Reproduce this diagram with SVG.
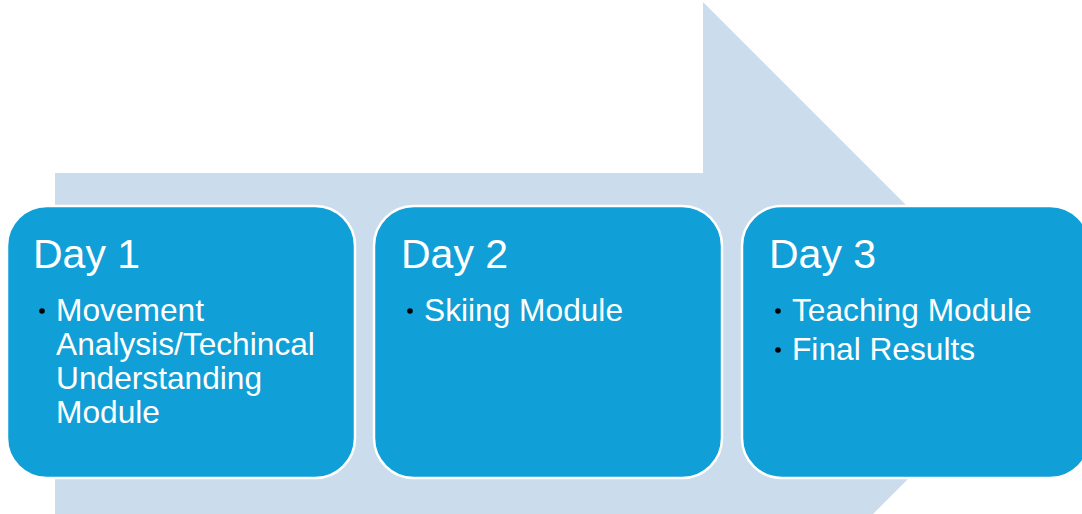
<svg xmlns="http://www.w3.org/2000/svg" width="1082" height="514" viewBox="0 0 1082 514">
<style>
.box{fill:#109fd6;stroke:#ffffff;stroke-width:2.5}
.title{font-family:"Liberation Sans",Arial,sans-serif;font-size:41px;fill:#ffffff}
.item{font-family:"Liberation Sans",Arial,sans-serif;font-size:31.7px;fill:#ffffff}
.dot{fill:#000000}
</style>
<rect width="1082" height="514" fill="#ffffff"/>
<g id="arrow">
<polygon points="55,173 703,173 703,2 1044,343 703,684 703,514 55,514" fill="#cbdded"/>
</g>
<g id="connectors"></g>
<g id="day1">
<rect class="box" x="7" y="206" width="348" height="272" rx="40" ry="40"/>
<text class="title" x="33" y="268">Day 1</text>
<circle class="dot" cx="42" cy="311" r="2.8"/>
<text class="item" x="56" y="321">Movement</text>
<text class="item" x="56" y="355">Analysis/Techincal</text>
<text class="item" x="56" y="389">Understanding</text>
<text class="item" x="56" y="423">Module</text>
</g>
<g id="day2">
<rect class="box" x="374" y="206" width="348" height="272" rx="40" ry="40"/>
<text class="title" x="401" y="268">Day 2</text>
<circle class="dot" cx="410" cy="311" r="2.8"/>
<text class="item" x="424" y="321">Skiing Module</text>
</g>
<g id="day3">
<rect class="box" x="742" y="206" width="348" height="272" rx="40" ry="40"/>
<text class="title" x="769" y="268">Day 3</text>
<circle class="dot" cx="778" cy="311" r="2.8"/>
<text class="item" x="792" y="321">Teaching Module</text>
<circle class="dot" cx="778" cy="350" r="2.8"/>
<text class="item" x="792" y="360">Final Results</text>
</g>
</svg>
